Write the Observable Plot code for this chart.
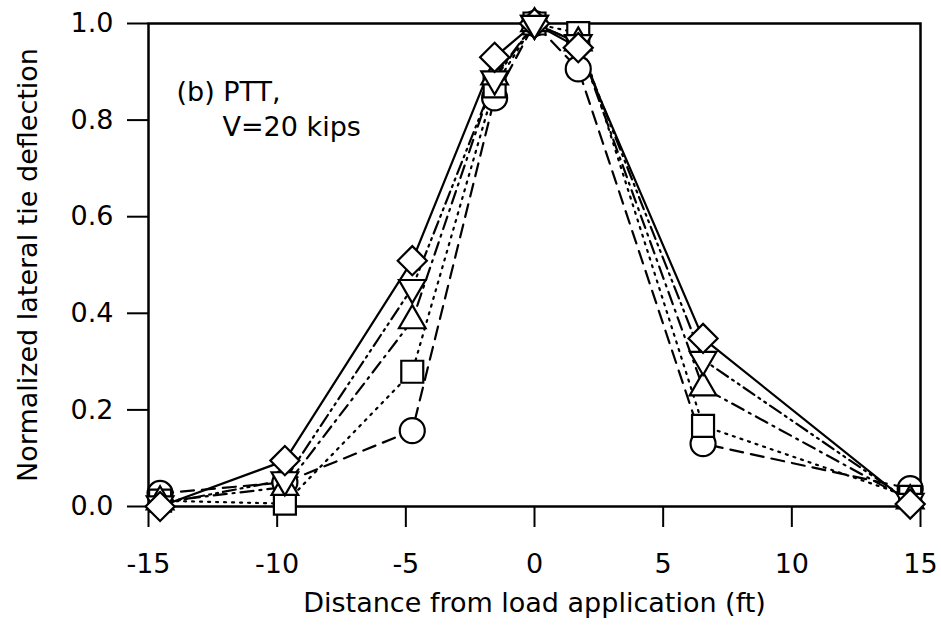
<!DOCTYPE html>
<html><head><meta charset="utf-8">
<script src="https://cdn.jsdelivr.net/npm/d3@7"></script>
<script src="https://cdn.jsdelivr.net/npm/@observablehq/plot@0.6"></script>
<style>body{margin:0;background:#fff}</style>
</head><body><div id="chart"></div><script>
// Distance of each tie from the load application (ft)
const xFt = [-14.55, -9.7, -4.75, -1.55, 0, 1.7, 6.55, 14.6];
// Normalized lateral tie deflection, one array per series (marker)
const circleY   = [0.027, 0.05, 0.157, 0.846, 1.0, 0.906, 0.130, 0.037];
const squareY   = [0.012, 0.006, 0.279, 0.870, 1.0, 0.980, 0.167, 0.020];
const triUpY    = [0.010, 0.040, 0.385, 0.890, 1.0, 0.960, 0.246, 0.012];
const triDownY  = [0.005, 0.055, 0.453, 0.885, 1.0, 0.960, 0.304, 0.010];
const diamondY  = [0.000, 0.095, 0.509, 0.930, 1.0, 0.950, 0.348, 0.005];
const seriesNames = ["circle", "square", "triangleUp", "triangleDown", "diamond"];
const xTicks = [-15, -10, -5, 0, 5, 10, 15];
const yTicks = [0, 0.2, 0.4, 0.6, 0.8, 1.0];
const xLabel = "Distance from load application (ft)";
const yLabel = "Normalized lateral tie deflection";
const noteLines = ["(b) PTT,", "V=20 kips"];

const seriesValues = [circleY, squareY, triUpY, triDownY, diamondY];
const rows = seriesNames.map((name, k) => xFt.map((x, i) => ({series: name, x, y: seriesValues[k][i]})));

const triangleDown = {
  draw(context, size) {
    const y = Math.sqrt(size / (Math.sqrt(3) * 3));
    const s3 = Math.sqrt(3);
    context.moveTo(0, 2 * y);
    context.lineTo(-s3 * y, -y);
    context.lineTo(s3 * y, -y);
    context.closePath();
  }
};

const styles = {
  circle:       {dash: "13,8",           symbol: d3.symbolCircle,   r: 12.5},
  square:       {dash: "2,6",            symbol: d3.symbolSquare,   r: 12.4},
  triangleUp:   {dash: "13,6,2,6",       symbol: d3.symbolTriangle, r: 9.9},
  triangleDown: {dash: "13,5,2,5,2,5",   symbol: triangleDown,      r: 9.9},
  diamond:      {dash: null,             symbol: d3.symbolDiamond2, r: 13.1}
};

const lineMarks = rows.map((data, k) => Plot.line(data, {
  x: "x", y: "y", stroke: "black", strokeWidth: 2.2,
  strokeDasharray: styles[seriesNames[k]].dash || undefined
}));
const dotMarks = rows.map((data, k) => Plot.dot(data, {
  x: "x", y: "y", symbol: styles[seriesNames[k]].symbol, r: styles[seriesNames[k]].r,
  fill: "white", stroke: "black", strokeWidth: 2.2
}));
// at the peak the inverted triangle sits on top of the diamond
const peakTriangle = Plot.dot(rows[3], {
  filter: d => d.x === 0, x: "x", y: "y", symbol: triangleDown, r: 9.9,
  fill: "white", stroke: "black", strokeWidth: 2.2
});

const chart = Plot.plot({
  width: 941,
  height: 641,
  marginLeft: 148,
  marginRight: 21,
  marginTop: 23,
  marginBottom: 135,
  style: {fontFamily: "DejaVu Sans", fontSize: "27px", background: "white", color: "black"},
  x: {domain: [-15, 15]},
  y: {domain: [0, 1]},
  marks: [
    Plot.frame({stroke: "black", strokeWidth: 2.5}),
    Plot.axisX({ticks: xTicks, tickSize: 21, tickPadding: 26, tickFormat: d => String(d), strokeWidth: 2, label: null, fontSize: 27}),
    Plot.axisY({ticks: yTicks, tickSize: 21, tickPadding: 14, tickFormat: d => d.toFixed(1), strokeWidth: 2, label: null, fontSize: 27}),
    ...lineMarks,
    ...dotMarks,
    peakTriangle,
    Plot.text([xLabel], {text: d => d, frameAnchor: "bottom", dy: 105, fontSize: 27}),
    Plot.text([yLabel], {text: d => d, frameAnchor: "left", textAnchor: "middle", rotate: -90, dx: -120, fontSize: 27}),
    Plot.text([noteLines[0]], {text: d => d, frameAnchor: "top-left", textAnchor: "start", dx: 28, dy: 58, fontSize: 27}),
    Plot.text([noteLines[1]], {text: d => d, frameAnchor: "top-left", textAnchor: "start", dx: 74, dy: 93, fontSize: 27})
  ]
});
document.getElementById("chart").appendChild(chart);
</script></body></html>
